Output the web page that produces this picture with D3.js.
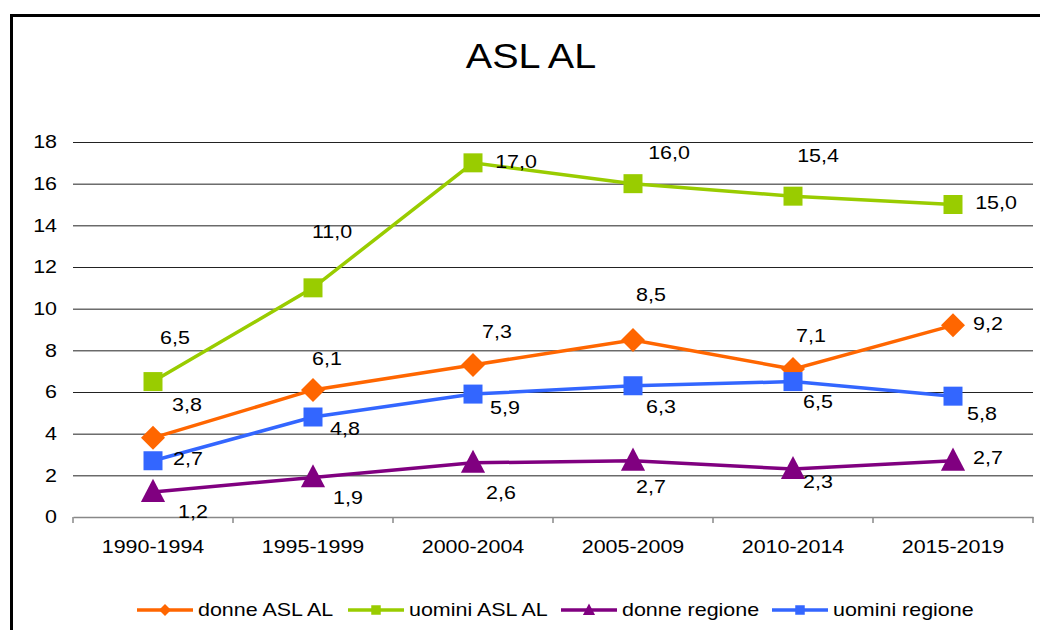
<!DOCTYPE html>
<html>
<head>
<meta charset="utf-8">
<script src="https://cdn.jsdelivr.net/npm/d3@7"></script>
<style>
	body { margin: 0; background: #fff; }
	text { font-family: "Liberation Sans", Arial, sans-serif; fill: #000; }
</style>
</head>
<body>
<svg id="chart" width="1040" height="630"></svg>
<script>
"use strict";

//
// Data
//
var periods = ["1990-1994", "1995-1999", "2000-2004", "2005-2009", "2010-2014", "2015-2019"];
var yTicks = [0, 2, 4, 6, 8, 10, 12, 14, 16, 18];

var donneAsl = [3.8, 6.1, 7.3, 8.5, 7.1, 9.2];
var uominiAsl = [6.5, 11.0, 17.0, 16.0, 15.4, 15.0];
var donneRegione = [1.2, 1.9, 2.6, 2.7, 2.3, 2.7];
var uominiRegione = [2.7, 4.8, 5.9, 6.3, 6.5, 5.8];

//
// Label placement (offset of the label centre from its point)
//
var offDonneAsl = [[34, -33], [14, -31], [24, -33], [18, -45], [18, -34], [35, -2]];
var offUominiAsl = [[22, -44], [19, -56], [43, -1], [36, -31], [25, -41], [43, -2]];
var offDonneReg = [[40, 20], [35, 20], [28, 30], [18, 26], [25, 12], [35, -3]];
var offUominiReg = [[35, -2], [32, 12], [32, 13], [28, 21], [25, 20], [29, 17]];

var series = [
	{ name: "donne ASL AL", values: donneAsl, color: "#FF6600", marker: "diamond", off: offDonneAsl },
	{ name: "uomini ASL AL", values: uominiAsl, color: "#99CC00", marker: "square", off: offUominiAsl },
	{ name: "donne regione", values: donneRegione, color: "#800080", marker: "triangle", off: offDonneReg },
	{ name: "uomini regione", values: uominiRegione, color: "#3366FF", marker: "square", off: offUominiReg }
];

//
// Setup Variables
//
var svg = d3.select("#chart");
var plotLeft = 73, plotRight = 1033, plotTop = 142, plotBottom = 517;
var stretchK = 1.16;
var fontSize = "18.5px";

var x = d3.scaleBand().domain(periods).range([plotLeft, plotRight]);
var y = d3.scaleLinear().domain([0, 18]).range([plotBottom, plotTop]);
var cx = function(i) { return x(periods[i]) + x.bandwidth() / 2; };

// the source text is drawn horizontally wider than plain Arial
function stretch(sel, k) {
	sel.each(function() {
		var t = d3.select(this);
		var tx = +t.attr("x") || 0, ty = +t.attr("y") || 0;
		t.attr("x", 0).attr("y", 0)
			.attr("transform", "translate(" + tx + "," + ty + ") scale(" + k + ",1)");
	});
}

// outer frame
svg.append("rect")
	.attr("x", 11.5).attr("y", 15.5)
	.attr("width", 1040).attr("height", 640)
	.attr("fill", "none")
	.attr("stroke", "#000")
	.attr("stroke-width", 3);

// title
svg.append("text")
	.attr("x", 531).attr("y", 68)
	.attr("text-anchor", "middle")
	.style("font-size", "35px")
	.text("ASL AL")
	.call(stretch, 1.13);

//
// Y-Axis with gridlines
//
var yAxis = d3.axisLeft(y)
	.tickValues(yTicks.slice(1))
	.tickSize(-(plotRight - plotLeft))
	.tickPadding(16)
	.tickFormat(d3.format("d"));

var gy = svg.append("g")
	.attr("transform", "translate(" + plotLeft + ",0)")
	.call(yAxis);
gy.select(".domain").remove();
gy.selectAll(".tick line").attr("stroke", "#222").attr("stroke-width", 1);
gy.selectAll(".tick text").style("font-size", fontSize).attr("fill", "#000")
	.call(stretch, stretchK);

// zero label (no gridline, sits on x axis)
svg.append("text")
	.attr("x", plotLeft - 16).attr("y", y(0))
	.attr("dy", "0.32em")
	.attr("text-anchor", "end")
	.style("font-size", fontSize)
	.text(yTicks[0])
	.call(stretch, stretchK);

//
// X-Axis
//
var xAxis = d3.axisBottom(x).tickSize(0).tickPadding(23);
var gx = svg.append("g")
	.attr("transform", "translate(0," + plotBottom + ")")
	.call(xAxis);
gx.select(".domain").attr("stroke", "#888").attr("stroke-width", 1.5);
gx.selectAll(".tick text").style("font-size", fontSize).attr("fill", "#000")
	.call(stretch, stretchK);

var edges = periods.map(function(p) { return x(p); }).concat([plotRight]);
gx.selectAll(".edge")
	.data(edges)
	.enter()
	.append("line")
	.attr("class", "edge")
	.attr("x1", function(d) { return d; })
	.attr("x2", function(d) { return d; })
	.attr("y1", 0).attr("y2", 6)
	.attr("stroke", "#888")
	.attr("stroke-width", 1.5);

//
// Markers
//
function markerPath(type, s) {
	var h = s / 2;
	if (type === "diamond") return "M0," + (-h) + "L" + h + ",0L0," + h + "L" + (-h) + ",0Z";
	if (type === "triangle") return "M0," + (-s * 0.6) + "L" + (s * 0.55) + "," + (s * 0.45) + "L" + (-s * 0.55) + "," + (s * 0.45) + "Z";
	return "M" + (-h) + "," + (-h) + "h" + s + "v" + s + "h" + (-s) + "Z";
}
var markerSize = { diamond: 24, square: 19, triangle: 22 };

var line = d3.line()
	.x(function(d, i) { return cx(i); })
	.y(function(d) { return y(d); });

var gs = svg.selectAll(".series")
	.data(series)
	.enter()
	.append("g")
	.attr("class", "series");

gs.append("path")
	.attr("d", function(s) { return line(s.values); })
	.attr("fill", "none")
	.attr("stroke", function(s) { return s.color; })
	.attr("stroke-width", 3.5);

gs.each(function(s) {
	var g = d3.select(this);
	g.selectAll(".pt")
		.data(s.values)
		.enter()
		.append("path")
		.attr("class", "pt")
		.attr("transform", function(d, i) { return "translate(" + cx(i) + "," + y(d) + ")"; })
		.attr("d", markerPath(s.marker, markerSize[s.marker]))
		.attr("fill", s.color);
});

//
// Data labels
//
var fmt = function(v) { return d3.format(".1f")(v).replace(".", ","); };
gs.each(function(s) {
	d3.select(this).selectAll(".lbl")
		.data(s.values)
		.enter()
		.append("text")
		.attr("class", "lbl")
		.attr("x", function(d, i) { return cx(i) + s.off[i][0]; })
		.attr("y", function(d, i) { return y(d) + s.off[i][1]; })
		.attr("dy", "0.35em")
		.attr("text-anchor", "middle")
		.style("font-size", fontSize)
		.text(fmt)
		.call(stretch, stretchK);
});

//
// Legend
//
var legendX = [137, 348, 561, 772];
var lg = svg.selectAll(".legend")
	.data(series)
	.enter()
	.append("g")
	.attr("class", "legend")
	.attr("transform", function(s, i) { return "translate(" + legendX[i] + ",610)"; });

lg.append("line")
	.attr("x1", 0).attr("x2", 56)
	.attr("stroke", function(s) { return s.color; })
	.attr("stroke-width", 3.5);

lg.append("path")
	.attr("transform", "translate(28,0)")
	.attr("d", function(s) { return markerPath(s.marker, markerSize[s.marker] * 0.5); })
	.attr("fill", function(s) { return s.color; });

lg.append("text")
	.attr("x", 61)
	.attr("dy", "0.35em")
	.style("font-size", fontSize)
	.text(function(s) { return s.name; })
	.call(stretch, stretchK);
</script>
</body>
</html>
